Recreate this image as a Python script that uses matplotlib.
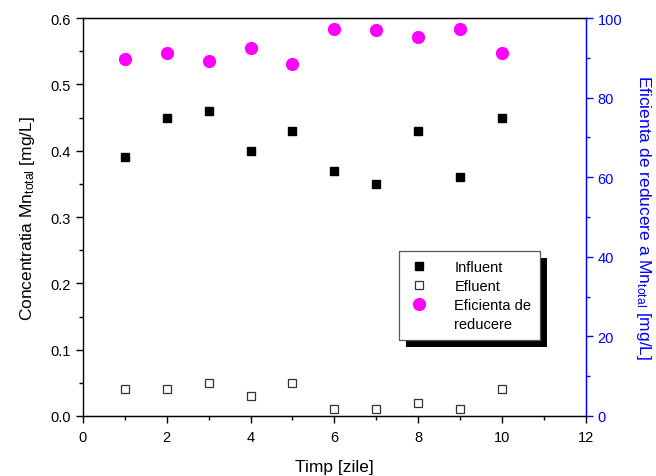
import numpy as np
import matplotlib
matplotlib.use('Agg')
import matplotlib.pyplot as plt
from matplotlib.patches import Rectangle
from matplotlib.lines import Line2D

plt.rcParams['font.family'] = ['Liberation Sans', 'DejaVu Sans']
plt.rcParams['mathtext.default'] = 'regular'

# Mn total concentration and reduction efficiency over time
zile = [1, 2, 3, 4, 5, 6, 7, 8, 9, 10]
influent = [0.39, 0.45, 0.46, 0.40, 0.43, 0.37, 0.35, 0.43, 0.36, 0.45]
efluent = [0.04, 0.04, 0.05, 0.03, 0.05, 0.01, 0.01, 0.02, 0.01, 0.04]
eficienta = [89.7, 91.1, 89.1, 92.5, 88.4, 97.3, 97.1, 95.3, 97.2, 91.1]

fig = plt.figure(figsize=(6.56, 4.77), dpi=100)
ax = fig.add_axes([0.1265, 0.1258, 0.7665, 0.8342])
ax2 = ax.twinx()

h1, = ax.plot(zile, influent, 's', color='black', ms=6, label='Influent')
h2, = ax.plot(zile, efluent, 's', mfc='white', mec='#333333', mew=0.9, ms=5.5, label='Efluent')
h3, = ax2.plot(zile, eficienta, 'o', color='#ff00ff', ms=8.5, label='Eficienta de')
# second line of the efficiency label, no marker
h4 = Line2D([], [], linestyle='none', marker='none', label='reducere')

ax.set_xlim(0, 12)
ax.set_ylim(0, 0.6)
ax2.set_ylim(0, 100)
ax.set_xticks(np.arange(0, 13, 2))
ax.set_xticks(np.arange(1, 12, 2), minor=True)
ax.set_yticks(np.arange(0, 0.61, 0.1))
ax.set_yticks(np.arange(0.05, 0.6, 0.1), minor=True)
ax.set_yticklabels(['%.1f' % v for v in np.arange(0, 0.61, 0.1)])
ax2.set_yticks(np.arange(0, 101, 20))
ax2.set_yticks(np.arange(10, 100, 20), minor=True)

ax.tick_params(which='major', direction='out', length=5, width=1, labelsize=10.5)
ax.tick_params(axis='x', pad=5)
ax.tick_params(which='minor', direction='out', length=3, width=1)
ax2.tick_params(which='major', direction='out', length=5, width=1, labelsize=10.5,
                colors='blue')
ax2.tick_params(which='minor', direction='out', length=3, width=1, colors='blue')

for s in ['left', 'bottom', 'top']:
    ax.spines[s].set_linewidth(1.0)
ax2.spines['right'].set_color('blue')
ax2.spines['right'].set_linewidth(1.0)
ax2.spines['left'].set_visible(False)

ax.set_xlabel('Timp [zile]', fontsize=12.5, labelpad=11)
ax.set_ylabel('Concentratia Mn$_{total}$ [mg/L]', fontsize=12.5, labelpad=10)
ax2.set_ylabel('Eficienta de reducere a Mn$_{total}$ [mg/L]', fontsize=12.5,
               color='blue', rotation=270, labelpad=22)

leg = fig.legend(handles=[h1, h2, h3, h4], loc='upper left',
                 bbox_to_anchor=(399 / 656, 1 - 252 / 477), fontsize=10.5,
                 frameon=True, fancybox=False, edgecolor='#555555',
                 facecolor='white', framealpha=1,
                 borderpad=0.6, handletextpad=1.6, labelspacing=0.35,
                 handlelength=1.6, borderaxespad=0)
leg.get_frame().set_linewidth(0.9)
leg.set_zorder(6)

# solid black drop shadow behind the legend box
fig.canvas.draw()
bb = leg.get_window_extent().transformed(fig.transFigure.inverted())
dx, dy = 7 / 656, 7 / 477
fig.add_artist(Rectangle((bb.x0 + dx, bb.y0 - dy), bb.width, bb.height,
                         transform=fig.transFigure, facecolor='black',
                         edgecolor='none', zorder=5))

fig.savefig('out.png', dpi=100)
